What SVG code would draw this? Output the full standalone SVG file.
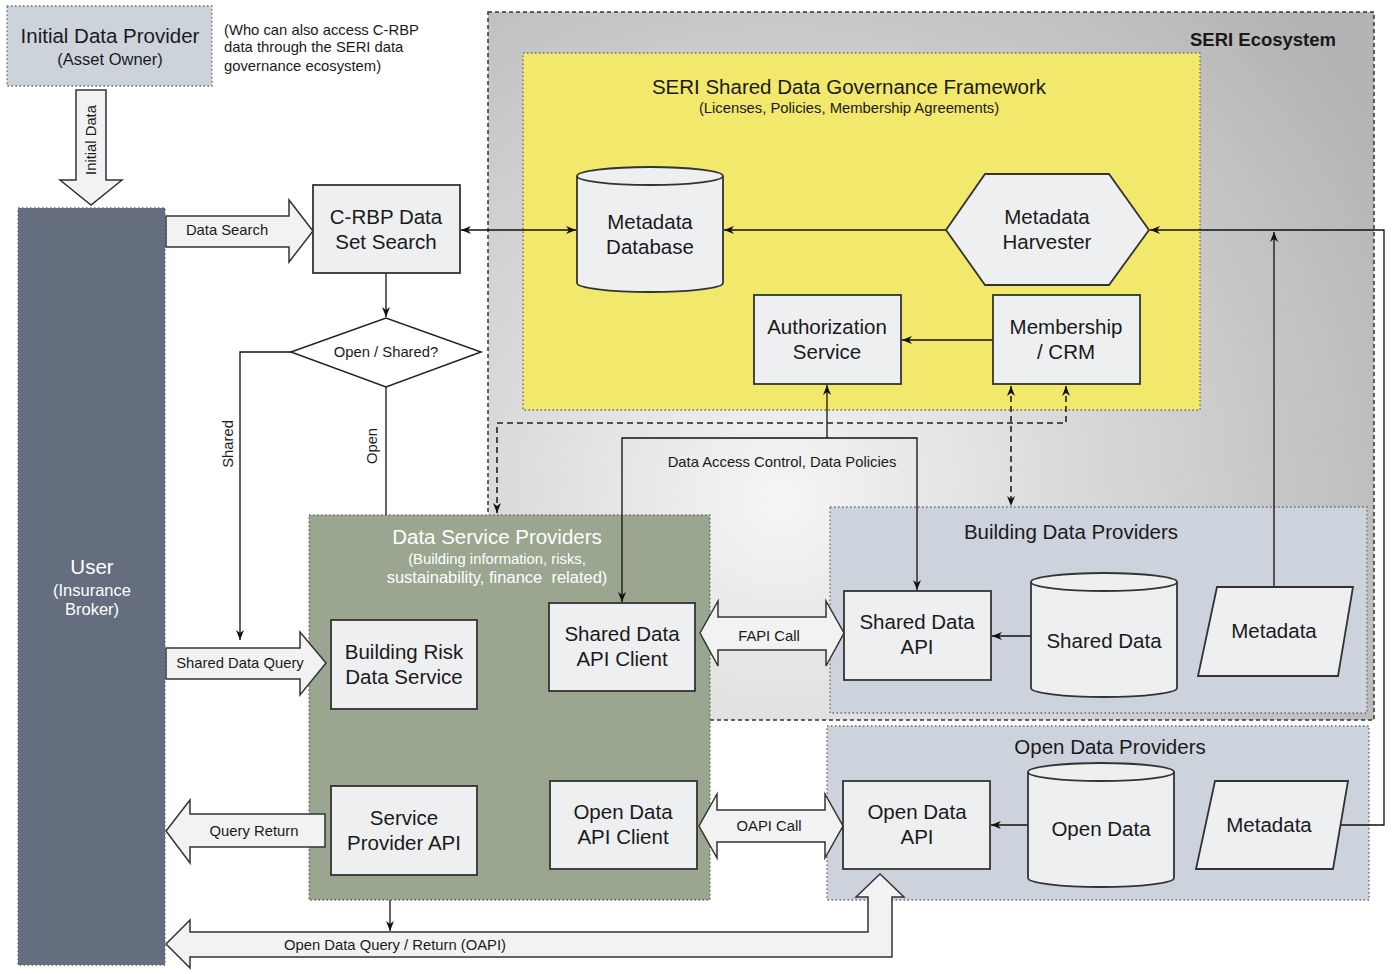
<svg xmlns="http://www.w3.org/2000/svg" width="1395" height="974" viewBox="0 0 1395 974">
<style>
text{font-family:"Liberation Sans",Arial,sans-serif;fill:#1a1a1a;text-anchor:middle}
.n{fill:#eeeff1;stroke:#333;stroke-width:1.8}
.t{font-size:20.5px}
.s{font-size:14.8px}
.m{font-size:16.5px}
.c{fill:none;stroke:#111;stroke-width:1.3}
.d{fill:none;stroke:#222;stroke-width:1.6;stroke-dasharray:6 4}
.ba{fill:#f2f2f2;stroke:#333;stroke-width:1.5}
.grp{stroke:#666;stroke-width:1.3;stroke-dasharray:1.5 2.5}
.w{fill:#fff}
</style>
<defs>
<radialGradient id="eco" gradientUnits="userSpaceOnUse" cx="780" cy="500" r="700">
<stop offset="0" stop-color="#f5f5f5"/>
<stop offset="1" stop-color="#b4b4b4"/>
</radialGradient>
<marker id="ah" viewBox="0 0 10 10" refX="10" refY="5" markerWidth="10" markerHeight="10" orient="auto-start-reverse" markerUnits="userSpaceOnUse">
<path d="M0,1 L10,5 L0,9 L3,5 z" fill="#111"/>
</marker>
</defs>
<rect width="1395" height="974" fill="#fff"/>

<g id="seri-ecosystem">
<rect x="488" y="12" width="886" height="708" fill="url(#eco)" stroke="#333" stroke-width="1.5" stroke-dasharray="4 3"/>
<text x="1263" y="46" style="font-size:18.5px;font-weight:bold">SERI Ecosystem</text>
</g>

<g id="governance-framework">
<rect x="523" y="53" width="677" height="357" fill="#f2e86c" class="grp"/>
<text x="849" y="94" class="t">SERI Shared Data Governance Framework</text>
<text x="849" y="113" class="s">(Licenses, Policies, Membership Agreements)</text>
</g>

<g id="initial-data-provider">
<rect x="7" y="6" width="205" height="80" fill="#cdd3db" class="grp"/>
<text x="110" y="43" class="t">Initial Data Provider</text>
<text x="110" y="65" class="m">(Asset Owner)</text>
</g>
<g id="note">
<text x="224" y="35" class="s" style="text-anchor:start">(Who can also access C-RBP</text>
<text x="224" y="52" class="s" style="text-anchor:start">data through the SERI data</text>
<text x="224" y="71" class="s" style="text-anchor:start">governance ecosystem)</text>
</g>

<g id="user">
<rect x="18" y="208" width="147" height="757" fill="#646e7e" class="grp"/>
<text x="92" y="574" class="t w">User</text>
<text x="92" y="596" class="m w">(Insurance</text>
<text x="92" y="615" class="m w">Broker)</text>
</g>

<g id="data-service-providers">
<rect x="309" y="515" width="401" height="385" fill="#9aa68f" class="grp"/>
<text x="497" y="544" class="t w">Data Service Providers</text>
<text x="497" y="564" class="s w">(Building information, risks,</text>
<text x="497" y="583" class="m w" xml:space="preserve" style="white-space:pre">sustainability, finance  related)</text>
</g>

<g id="building-data-providers">
<rect x="830" y="507" width="537" height="206" fill="#ccd3dd" class="grp"/>
<text x="1071" y="539" class="t">Building Data Providers</text>
</g>

<g id="open-data-providers">
<rect x="827" y="726" width="542" height="174" fill="#ccd3dd" class="grp"/>
<text x="1110" y="754" class="t">Open Data Providers</text>
</g>

<g id="connectors">
<path class="c" d="M386,273 L386,317" marker-end="url(#ah)"/>
<path class="c" d="M461,230 L576,230" marker-start="url(#ah)" marker-end="url(#ah)"/>
<path class="c" d="M946,230 L724,230" marker-end="url(#ah)"/>
<path class="c" d="M1340,825 L1384,825 L1384,230 L1150,230" marker-end="url(#ah)"/>
<path class="c" d="M1274,587 L1274,232" marker-end="url(#ah)"/>
<path class="c" d="M993,340 L902,340" marker-end="url(#ah)"/>
<path class="c" d="M827,438 L827,385" marker-end="url(#ah)"/>
<path class="c" d="M622,602 L622,438 L917,438 L917,590" marker-start="url(#ah)" marker-end="url(#ah)"/>
<path class="d" d="M1066,386 L1066,423 L497,423 L497,513" marker-start="url(#ah)" marker-end="url(#ah)"/>
<path class="d" d="M1011,386 L1011,506" marker-start="url(#ah)" marker-end="url(#ah)"/>
<path class="c" d="M291,352 L240,352 L240,640" marker-end="url(#ah)"/>
<path class="c" d="M386,387 L386,515"/>
<path class="c" d="M1031,636 L992,636" marker-end="url(#ah)"/>
<path class="c" d="M1028,825 L991,825" marker-end="url(#ah)"/>
<path class="c" d="M390,900 L390,931" marker-end="url(#ah)"/>
<text x="782" y="467" class="s">Data Access Control, Data Policies</text>
<text transform="translate(233,444) rotate(-90)" class="s">Shared</text>
<text transform="translate(377,446) rotate(-90)" class="s">Open</text>

<path class="ba" d="M76,90 L106,90 L106,180 L122,180 L91,205 L60,180 L76,180 Z"/>
<text transform="translate(96,140) rotate(-90)" class="s">Initial Data</text>
<path class="ba" d="M166,216 L289,216 L289,200 L313,231 L289,262 L289,247 L166,247 Z"/>
<text x="227" y="235" class="s">Data Search</text>
<path class="ba" d="M166,648 L300,648 L300,632 L326,663 L300,695 L300,679 L166,679 Z"/>
<text x="240" y="668" class="s">Shared Data Query</text>
<path class="ba" d="M325,814 L190,814 L190,800 L166,831 L190,863 L190,847 L325,847 Z"/>
<text x="254" y="836" class="s">Query Return</text>
<path class="ba" d="M700,633 L718,601 L718,617 L826,617 L826,601 L844,633 L826,666 L826,650 L718,650 L718,666 Z"/>
<text x="769" y="641" class="s">FAPI Call</text>
<path class="ba" d="M699,826 L717,794 L717,810 L825,810 L825,794 L843,826 L825,858 L825,842 L717,842 L717,858 Z"/>
<text x="769" y="831" class="s">OAPI Call</text>
<path class="ba" d="M166,944 L190,920 L190,932 L868,932 L868,897 L856,897 L880,874 L904,897 L892,897 L892,957 L190,957 L190,968 Z"/>
<text x="395" y="950" class="s">Open Data Query / Return (OAPI)</text>
</g>

<g id="crbp-search">
<rect class="n" x="313" y="185" width="147" height="88"/>
<text x="386" y="224" class="t">C-RBP Data</text>
<text x="386" y="249" class="t">Set Search</text>
</g>

<g id="decision">
<path d="M291,352 L386,318 L481,352 L386,387 Z" fill="#fff" stroke="#222" stroke-width="1.5"/>
<text x="386" y="357" class="s">Open / Shared?</text>
</g>

<g id="metadata-database">
<path class="n" d="M577,176 A73,9 0 0 1 723,176 L723,283 A73,9 0 0 1 577,283 Z"/>
<path fill="none" stroke="#333" stroke-width="1.8" d="M577,176 A73,9 0 0 0 723,176"/>
<text x="650" y="229" class="t">Metadata</text>
<text x="650" y="254" class="t">Database</text>
</g>

<g id="metadata-harvester">
<path class="n" d="M946,230 L985,174 L1109,174 L1149,230 L1109,285 L985,285 Z"/>
<text x="1047" y="224" class="t">Metadata</text>
<text x="1047" y="249" class="t">Harvester</text>
</g>

<g id="authorization-service">
<rect class="n" x="754" y="295" width="147" height="89"/>
<text x="827" y="334" class="t">Authorization</text>
<text x="827" y="359" class="t">Service</text>
</g>

<g id="membership-crm">
<rect class="n" x="993" y="295" width="147" height="89"/>
<text x="1066" y="334" class="t">Membership</text>
<text x="1066" y="359" class="t">/ CRM</text>
</g>

<g id="building-risk-data-service">
<rect class="n" x="331" y="620" width="146" height="89"/>
<text x="404" y="659" class="t">Building Risk</text>
<text x="404" y="684" class="t">Data Service</text>
</g>

<g id="shared-data-api-client">
<rect class="n" x="549" y="603" width="146" height="88"/>
<text x="622" y="641" class="t">Shared Data</text>
<text x="622" y="666" class="t">API Client</text>
</g>

<g id="service-provider-api">
<rect class="n" x="331" y="786" width="146" height="89"/>
<text x="404" y="825" class="t">Service</text>
<text x="404" y="850" class="t">Provider API</text>
</g>

<g id="open-data-api-client">
<rect class="n" x="550" y="781" width="147" height="88"/>
<text x="623" y="819" class="t">Open Data</text>
<text x="623" y="844" class="t">API Client</text>
</g>

<g id="shared-data-api">
<rect class="n" x="844" y="591" width="147" height="89"/>
<text x="917" y="629" class="t">Shared Data</text>
<text x="917" y="654" class="t">API</text>
</g>

<g id="shared-data">
<path class="n" d="M1031,582 A73,9 0 0 1 1177,582 L1177,688 A73,9 0 0 1 1031,688 Z"/>
<path fill="none" stroke="#333" stroke-width="1.8" d="M1031,582 A73,9 0 0 0 1177,582"/>
<text x="1104" y="648" class="t">Shared Data</text>
</g>

<g id="building-metadata">
<path class="n" d="M1217,587 L1353,587 L1338,676 L1198,676 Z"/>
<text x="1274" y="638" class="t">Metadata</text>
</g>

<g id="open-data-api">
<rect class="n" x="843" y="781" width="147" height="88"/>
<text x="917" y="819" class="t">Open Data</text>
<text x="917" y="844" class="t">API</text>
</g>

<g id="open-data">
<path class="n" d="M1028,772 A73,9 0 0 1 1174,772 L1174,878 A73,9 0 0 1 1028,878 Z"/>
<path fill="none" stroke="#333" stroke-width="1.8" d="M1028,772 A73,9 0 0 0 1174,772"/>
<text x="1101" y="836" class="t">Open Data</text>
</g>

<g id="open-metadata">
<path class="n" d="M1215,781 L1348,781 L1333,869 L1196,869 Z"/>
<text x="1269" y="832" class="t">Metadata</text>
</g>
</svg>
